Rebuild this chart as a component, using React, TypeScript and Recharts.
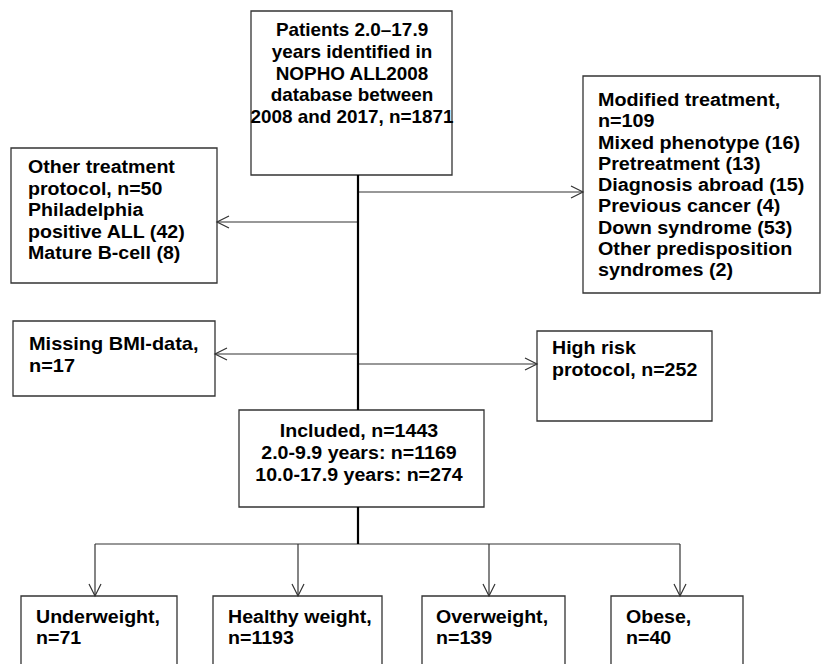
import { ComposedChart, XAxis, YAxis, ReferenceArea, ReferenceLine, Scatter } from 'recharts'

if (typeof document !== 'undefined') document.body.style.margin = '0'

const W = 823
const H = 664
const FONT = "Arial, 'Liberation Sans', Helvetica, sans-serif"

// box texts
const topText = ['Patients 2.0–17.9', 'years identified in', 'NOPHO ALL2008', 'database between', '2008 and 2017, n=1871']
const modifiedText = ['Modified treatment,', 'n=109', 'Mixed phenotype (16)', 'Pretreatment (13)', 'Diagnosis abroad (15)', 'Previous cancer (4)', 'Down syndrome (53)', 'Other predisposition', 'syndromes (2)']
const otherText = ['Other treatment', 'protocol, n=50', 'Philadelphia', 'positive ALL (42)', 'Mature B-cell (8)']
const missingText = ['Missing BMI-data,', 'n=17']
const highRiskText = ['High risk', 'protocol, n=252']
const includedText = ['Included, n=1443', '2.0-9.9 years: n=1169', '10.0-17.9 years: n=274']
const groupNames = ['Underweight,', 'Healthy weight,', 'Overweight,', 'Obese,']
const groupCounts = [71, 1193, 139, 40]

// layout in page pixels
const boxes = [
  { id: 'top', x1: 251, x2: 452, y1: 11, y2: 175 },
  { id: 'modified', x1: 583, x2: 820, y1: 76, y2: 293 },
  { id: 'other', x1: 11, x2: 217, y1: 148, y2: 283 },
  { id: 'missing', x1: 13, x2: 215, y1: 321, y2: 396 },
  { id: 'high', x1: 537, x2: 712, y1: 331, y2: 421 },
  { id: 'included', x1: 239, x2: 484, y1: 410, y2: 507 },
  { id: 'g0', x1: 21, x2: 177, y1: 596, y2: 700 },
  { id: 'g1', x1: 213, x2: 382, y1: 596, y2: 700 },
  { id: 'g2', x1: 422, x2: 565, y1: 596, y2: 700 },
  { id: 'g3', x1: 611, x2: 743, y1: 596, y2: 700 },
]

const groupX = [36, 228, 436, 626]
const texts = [
  { x: 352, y: 36, lines: topText, anchor: 'middle', lh: 21.8, sx: 1.08 },
  { x: 598, y: 106, lines: modifiedText, anchor: 'start', lh: 21.3, sx: 1.13 },
  { x: 28, y: 173, lines: otherText, anchor: 'start', lh: 21.6, sx: 1.12 },
  { x: 29, y: 350, lines: missingText, anchor: 'start', lh: 21.6, sx: 1.14 },
  { x: 552, y: 354, lines: highRiskText, anchor: 'start', lh: 22, sx: 1.12 },
  { x: 359, y: 437, lines: includedText, anchor: 'middle', lh: 22, sx: 1.12 },
  ...groupNames.map((n, i) => ({ x: groupX[i], y: 623, lines: [n, `n=${groupCounts[i]}`], anchor: 'start', lh: 21, sx: 1.12 })),
]

const trunkX = 358
const dropX = [95, 298, 489, 680]
const connectors = [
  { a: [trunkX, 192], b: [583, 192] },
  { a: [trunkX, 222], b: [217, 222] },
  { a: [trunkX, 354], b: [215, 354] },
  { a: [trunkX, 364], b: [537, 364] },
  { a: [dropX[0], 544], b: [dropX[3], 544] },
  ...dropX.map(x => ({ a: [x, 544], b: [x, 596] })),
]
const trunk = [
  { a: [trunkX, 175], b: [trunkX, 410] },
  { a: [trunkX, 507], b: [trunkX, 544] },
]
const arrows = [
  { x: 583, y: 192, dir: 'right' },
  { x: 217, y: 222, dir: 'left' },
  { x: 215, y: 354, dir: 'left' },
  { x: 537, y: 364, dir: 'right' },
  ...dropX.map(x => ({ x, y: 596, dir: 'down' })),
]

const TextBlock = (props: any) => {
  const { cx, cy, payload } = props
  return (
    <text transform={`translate(${cx},${cy}) scale(${payload.sx},1)`} textAnchor={payload.anchor}
      fontFamily={FONT} fontWeight={700} fontSize={17.5} fill="#000">
      {payload.lines.map((l: string, i: number) => (
        <tspan key={i} x={0} y={i * payload.lh}>{l}</tspan>
      ))}
    </text>
  )
}

const ArrowHead = (props: any) => {
  const { cx, cy, payload } = props
  const L = 12, S = 6
  let pts = ''
  if (payload.dir === 'right') pts = `${cx - L},${cy - S} ${cx},${cy} ${cx - L},${cy + S}`
  else if (payload.dir === 'left') pts = `${cx + L},${cy - S} ${cx},${cy} ${cx + L},${cy + S}`
  else pts = `${cx - S},${cy - L} ${cx},${cy} ${cx + S},${cy - L}`
  return <polyline points={pts} fill="none" stroke="#333" strokeWidth={1.2} />
}

export default function App() {
  return (
    <div style={{ width: W, height: H, background: '#fff' }}>
      <ComposedChart width={W} height={H} margin={{ top: 0, right: 0, bottom: 0, left: 0 }}>
        <XAxis type="number" dataKey="x" domain={[0, W]} hide allowDataOverflow />
        <YAxis type="number" dataKey="y" domain={[0, H]} reversed hide allowDataOverflow />
        {boxes.map(b => (
          <ReferenceArea key={b.id} x1={b.x1} x2={b.x2} y1={b.y1} y2={b.y2} ifOverflow="visible"
            fill="#fff" fillOpacity={1} stroke="#333" strokeWidth={1.3} />
        ))}
        {connectors.map((c, i) => (
          <ReferenceLine key={'c' + i} segment={[{ x: c.a[0], y: c.a[1] }, { x: c.b[0], y: c.b[1] }]}
            stroke="#333" strokeWidth={1.2} ifOverflow="visible" />
        ))}
        {trunk.map((c, i) => (
          <ReferenceLine key={'t' + i} segment={[{ x: c.a[0], y: c.a[1] }, { x: c.b[0], y: c.b[1] }]}
            stroke="#000" strokeWidth={2.2} ifOverflow="visible" />
        ))}
        <Scatter data={arrows} dataKey="y" shape={ArrowHead} isAnimationActive={false} />
        <Scatter data={texts} dataKey="y" shape={TextBlock} isAnimationActive={false} />
      </ComposedChart>
    </div>
  )
}
